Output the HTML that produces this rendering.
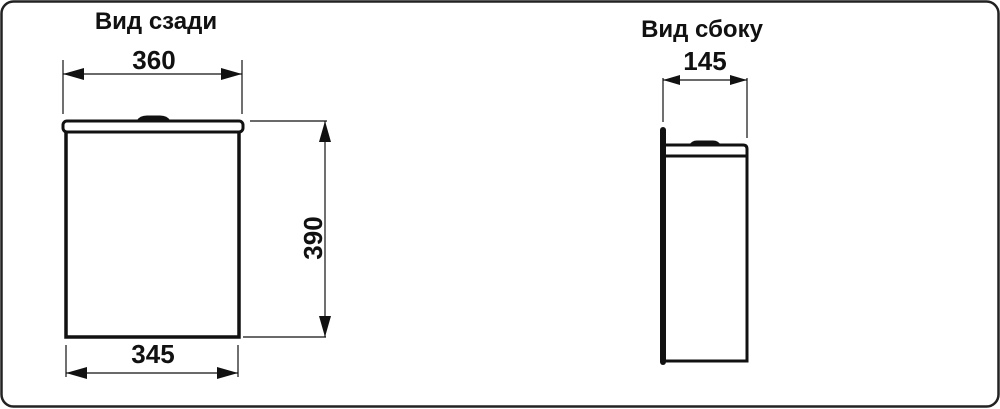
<!DOCTYPE html>
<html><head><meta charset="utf-8"><style>
html,body{margin:0;padding:0;background:#fff;}
svg{display:block;}
text{font-family:"Liberation Sans",sans-serif;font-weight:bold;fill:#111;}
</style></head><body>
<svg width="1000" height="409" viewBox="0 0 1000 409" xmlns="http://www.w3.org/2000/svg">
<rect x="1.5" y="1.5" width="997" height="405" rx="12" fill="#fff" stroke="#222" stroke-width="2.5"/>
<text x="156" y="29" font-size="24" text-anchor="middle">Вид сзади</text>
<text x="702" y="37" font-size="24" text-anchor="middle">Вид сбоку</text>
<g stroke="#111" fill="none">
 <path d="M137 121 Q140 116 147 116 L160 116 Q167 116 170 121 Z" fill="#111" stroke-width="1"/>
 <rect x="63" y="121" width="180" height="11" rx="4" stroke-width="3"/>
 <path d="M66 132 L66 337 L239 337 L239 132" stroke-width="3.5"/>
 <line x1="63" y1="60" x2="63" y2="114" stroke-width="1.2"/>
 <line x1="242" y1="60" x2="242" y2="114" stroke-width="1.2"/>
 <line x1="63" y1="74" x2="242" y2="74" stroke-width="1.2"/>
 <line x1="250" y1="121" x2="327" y2="121" stroke-width="1.2"/>
 <line x1="243" y1="337" x2="326" y2="337" stroke-width="1.2"/>
 <line x1="325" y1="121" x2="325" y2="337" stroke-width="1.2"/>
 <line x1="66" y1="345" x2="66" y2="377" stroke-width="1.2"/>
 <line x1="238" y1="345" x2="238" y2="377" stroke-width="1.2"/>
 <line x1="66" y1="373" x2="238" y2="373" stroke-width="1.2"/>
 <path d="M690 145 Q692 141 697 141 L713 141 Q718 141 720 145 Z" fill="#111" stroke-width="1"/>
 <path d="M665 145 L743 145 Q747 145 747 149 L747 361 L666 361" stroke-width="3"/>
 <line x1="666" y1="156" x2="747" y2="156" stroke-width="3"/>
 <line x1="663" y1="130" x2="663" y2="362" stroke-width="6" stroke-linecap="round"/>
 <line x1="663" y1="78" x2="663" y2="122" stroke-width="1.2"/>
 <line x1="747" y1="78" x2="747" y2="138" stroke-width="1.2"/>
 <line x1="663" y1="80" x2="747" y2="80" stroke-width="1.2"/>
</g>
<g fill="#111">
 <polygon points="63,74 84,68 84,80"/>
 <polygon points="242,74 221,68 221,80"/>
 <polygon points="325,121 319,142 331,142"/>
 <polygon points="325,337 319,316 331,316"/>
 <polygon points="66,373 87,367 87,379"/>
 <polygon points="238,373 217,367 217,379"/>
 <polygon points="663,80 680,75 680,85"/>
 <polygon points="747,80 730,75 730,85"/>
</g>
<text x="154" y="69" font-size="26" text-anchor="middle">360</text>
<text x="153" y="363" font-size="26" text-anchor="middle">345</text>
<text x="705" y="70" font-size="26" text-anchor="middle">145</text>
<text x="0" y="0" font-size="26" text-anchor="middle" transform="translate(322,238) rotate(-90)">390</text>
</svg>
</body></html>
